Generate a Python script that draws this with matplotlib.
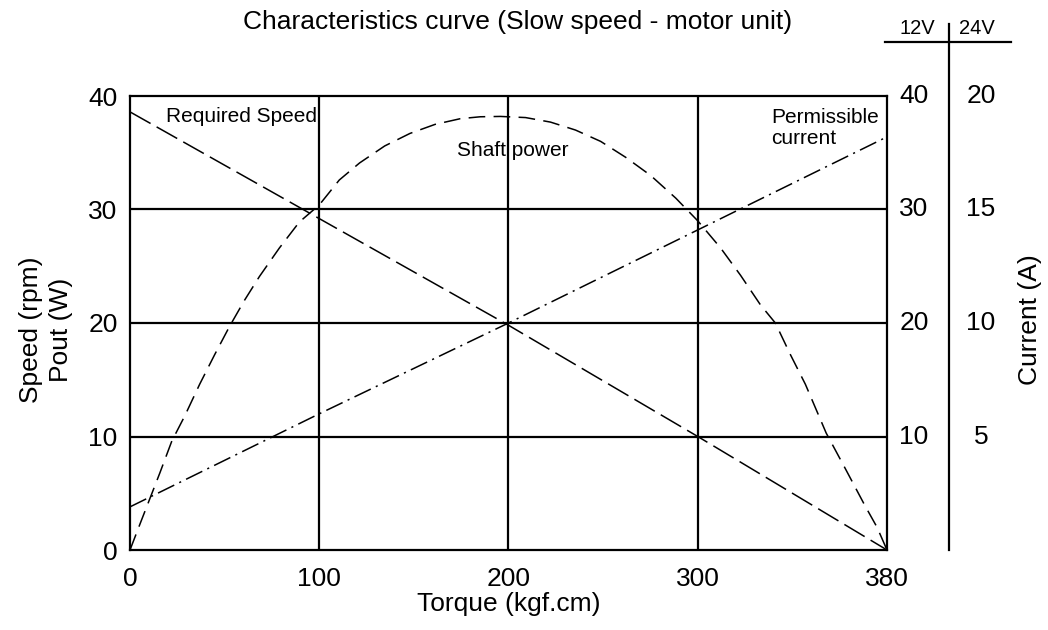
import numpy as np
import matplotlib
matplotlib.use("Agg")
import matplotlib.pyplot as plt
import matplotlib.transforms as mtransforms
from matplotlib.lines import Line2D

plt.rcParams['font.family'] = ['Liberation Sans', 'DejaVu Sans']
plt.rcParams['lines.scale_dashes'] = False

# Torque axis ticks (drawn evenly spaced on the original sheet)
torque_ticks = [0, 100, 200, 300, 380]
speed_ticks = [0, 10, 20, 30, 40]

# Required speed (rpm) vs torque
speed_torque = [0, 100, 200, 300, 380]
speed_rpm = [38.6, 29.2, 19.8, 10.0, 0.0]

# Shaft power (W) vs torque
power_torque = [0, 5.3, 15.8, 22.1, 28.9, 36.8, 44.7, 52.6, 60.5, 68.4, 78.9,
                89.5, 100, 110.6, 121.3, 134.6, 147.9, 161.2, 174.5, 185.1,
                195.7, 209.0, 222.2, 235.4, 248.7, 261.9, 275.1, 288.4, 300,
                309.7, 318.1, 326.5, 332.8, 339.2, 345.5, 354.3, 362.3, 370.7,
                375.8, 380]
power_w = [0, 2.3, 6.8, 9.6, 11.8, 14.6, 17.2, 19.7, 22.0, 24.1, 26.6,
           28.9, 30.4, 32.6, 34.1, 35.6, 36.7, 37.5, 38.0, 38.17,
           38.2, 38.1, 37.7, 37.0, 36.0, 34.6, 33.0, 31.0, 29.0,
           26.6, 24.2, 21.6, 20.0, 17.2, 14.6, 10.3, 7.2, 3.9,
           2.0, 0]

# Permissible current (A, 12V scale) vs torque
current_torque = [0, 100, 200, 300, 380]
current_a = [3.8, 12.0, 20.0, 28.2, 36.4]

# Right-hand current scales
right_12v = [10, 20, 30, 40]
right_24v = [5, 10, 15, 20]


def fwd(x):
    return np.interp(x, torque_ticks, np.arange(len(torque_ticks)))


def inv(p):
    return np.interp(p, np.arange(len(torque_ticks)), torque_ticks)


fig = plt.figure(figsize=(10.48, 6.3), dpi=100)
ax = fig.add_axes([130 / 1048, 80 / 630, 757 / 1048, 454 / 630])
ax.set_xscale('function', functions=(fwd, inv))
ax.set_xlim(0, 380)
ax.set_ylim(0, 40)

# grid
for t in torque_ticks[1:-1]:
    ax.axvline(t, color='black', lw=1.6)
for s in speed_ticks[1:-1]:
    ax.axhline(s, color='black', lw=1.6)

ax.plot(speed_torque, speed_rpm, color='black', lw=1.1, dashes=[17, 5])
ax.plot(power_torque, power_w, color='black', lw=1.1, dashes=[12, 6])
ax.plot(current_torque, current_a, color='black', lw=1.1, dashes=[13, 4, 1.5, 4])

for sp in ax.spines.values():
    sp.set_linewidth(1.6)

ax.set_xticks(torque_ticks)
ax.set_xticklabels([str(t) for t in torque_ticks])
ax.set_yticks(speed_ticks)
ax.set_yticklabels([str(s) for s in speed_ticks])
ax.tick_params(axis='y', length=0, labelsize=19, pad=9)
ax.tick_params(axis='x', length=0, labelsize=19, pad=12)
ax.set_xlabel('Torque (kgf.cm)', fontsize=19, labelpad=1)

ax.text(19, 38.2, 'Required Speed', fontsize=15, ha='left', va='center')
ax.text(202, 35.2, 'Shaft power', fontsize=15, ha='center', va='center')
ax.text(331, 37.2, 'Permissible\ncurrent', fontsize=15, ha='left', va='center',
        linespacing=1.1)

fig.text(0.494, 1 - 22 / 630, 'Characteristics curve (Slow speed - motor unit)',
         fontsize=19, ha='center', va='center')
fig.text(46 / 1048, 1 - 330 / 630, 'Speed (rpm)\nPout (W)', fontsize=19,
         rotation=90, ha='center', va='center', multialignment='center',
         linespacing=1.35)
fig.text(1030 / 1048, 1 - 320 / 630, 'Current (A)', fontsize=19, rotation=90,
         ha='center', va='center')

# right-hand current scales
trans = mtransforms.blended_transform_factory(fig.transFigure, ax.transData)
for v in right_12v:
    ax.text(914 / 1048, v, str(v), transform=trans, fontsize=19,
            ha='center', va='center', clip_on=False)
for v in right_24v:
    ax.text(981 / 1048, v * 2, str(v), transform=trans, fontsize=19,
            ha='center', va='center', clip_on=False)

fig.text(917 / 1048, 1 - 28 / 630, '12V', fontsize=14.5, ha='center', va='center')
fig.text(977 / 1048, 1 - 28 / 630, '24V', fontsize=14.5, ha='center', va='center')
fig.add_artist(Line2D([949 / 1048, 949 / 1048], [80 / 630, 1 - 24 / 630],
                      color='black', lw=1.6, transform=fig.transFigure))
fig.add_artist(Line2D([885 / 1048, 1011 / 1048], [1 - 42 / 630, 1 - 42 / 630],
                      color='black', lw=1.6, transform=fig.transFigure))

fig.savefig('out.png', dpi=100)
